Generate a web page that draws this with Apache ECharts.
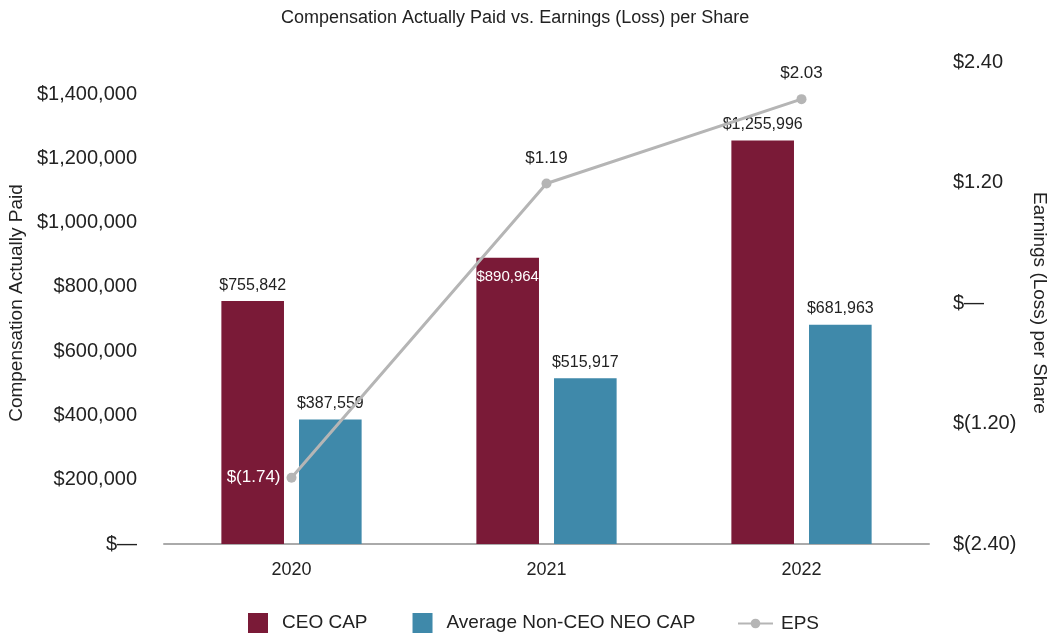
<!DOCTYPE html>
<html>
<head>
<meta charset="utf-8">
<script src="https://cdn.jsdelivr.net/npm/echarts@6/dist/echarts.min.js"></script>
<style>
  html, body { margin: 0; padding: 0; background: #fff; }
  #main { width: 1050px; height: 638px; }
</style>
</head>
<body>
<div id="main"></div>
<script>
  // data
  var years = ['2020', '2021', '2022'];
  var ceoCap = [755842, 890964, 1255996];
  var neoCap = [387559, 515917, 681963];
  var eps = [-1.74, 1.19, 2.03];

  var fontFam = '"Liberation Sans", Arial, sans-serif';

  function money(v) {
    if (v === 0) return '$\u2014';
    return '$' + Math.round(v).toLocaleString('en-US');
  }
  function epsFmt(v) {
    if (Math.abs(v) < 1e-9) return '$\u2014';
    if (v < 0) return '$(' + Math.abs(v).toFixed(2) + ')';
    return '$' + v.toFixed(2);
  }

  var myChart = echarts.init(document.getElementById('main'));

  myChart.setOption({
    textStyle: { fontFamily: fontFam },
    title: {
      text: 'Compensation Actually Paid vs. Earnings (Loss) per Share',
      left: 276,
      top: 4,
      textStyle: { fontSize: 18, fontWeight: 'normal', color: '#222', fontFamily: fontFam }
    },
    legend: [
      {
        bottom: 0,
        left: 243,
        itemGap: 45,
        itemWidth: 20,
        itemHeight: 20,
        textStyle: { fontSize: 19, color: '#222', fontFamily: fontFam, padding: [0, 0, 0, 9] },
        data: [
          { name: 'CEO CAP', icon: 'rect' },
          { name: 'Average Non-CEO NEO CAP', icon: 'rect' }
        ]
      },
      {
        bottom: 0,
        left: 732,
        itemWidth: 35,
        itemHeight: 12,
        textStyle: { fontSize: 19, color: '#222', fontFamily: fontFam, padding: [0, 0, 0, 3] },
        data: ['EPS']
      }
    ],
    grid: { left: 164, right: 121, top: 62, bottom: 94, outerBoundsMode: 'none' },
    xAxis: {
      type: 'category',
      data: years,
      axisLine: { lineStyle: { color: '#aaa', width: 2 } },
      axisTick: { show: false },
      axisLabel: { fontSize: 18, color: '#222', margin: 17 }
    },
    yAxis: [
      {
        type: 'value',
        min: 0,
        max: 1500000,
        interval: 200000,
        name: 'Compensation Actually Paid',
        nameLocation: 'middle',
        nameGap: 138,
        nameTextStyle: { fontSize: 19, color: '#222' },
        splitLine: { show: false },
        axisLine: { show: false },
        axisTick: { show: false },
        axisLabel: {
          fontSize: 20, color: '#222', margin: 27, showMaxLabel: false,
          formatter: money
        }
      },
      {
        type: 'value',
        min: -2.4,
        max: 2.4,
        interval: 1.2,
        position: 'right',
        name: 'Earnings (Loss) per Share',
        nameLocation: 'middle',
        nameRotate: -90,
        nameGap: 101,
        nameTextStyle: { fontSize: 19, color: '#222' },
        splitLine: { show: false },
        axisLine: { show: false },
        axisTick: { show: false },
        axisLabel: { fontSize: 20, color: '#222', margin: 24, formatter: epsFmt }
      }
    ],
    series: [
      {
        name: 'CEO CAP',
        type: 'bar',
        barGap: '24%',
        barCategoryGap: '45%',
        itemStyle: { color: '#7a1a37' },
        label: { show: true, position: 'top', fontSize: 16, color: '#222', distance: 8, formatter: function (p) { return money(p.value); } },
        data: ceoCap.map(function (v, i) {
          if (i === 1) {
            return { value: v, label: { position: 'insideTop', color: '#fff', fontSize: 15, distance: 12 } };
          }
          return v;
        })
      },
      {
        name: 'Average Non-CEO NEO CAP',
        type: 'bar',
        itemStyle: { color: '#3f89aa' },
        label: { show: true, position: 'top', fontSize: 16, color: '#222', distance: 8, formatter: function (p) { return money(p.value); } },
        data: neoCap
      },
      {
        name: 'EPS',
        type: 'line',
        yAxisIndex: 1,
        symbol: 'circle',
        symbolSize: 10,
        lineStyle: { color: '#b5b5b5', width: 3 },
        itemStyle: { color: '#b5b5b5' },
        label: { show: true, position: 'top', fontSize: 17, color: '#222', distance: 12, formatter: function (p) { return epsFmt(p.value); } },
        data: eps.map(function (v, i) {
          if (i === 0) {
            return { value: v, label: { position: 'left', color: '#fff', distance: 6 } };
          }
          return v;
        }),
        z: 5
      }
    ]
  });
</script>
</body>
</html>
